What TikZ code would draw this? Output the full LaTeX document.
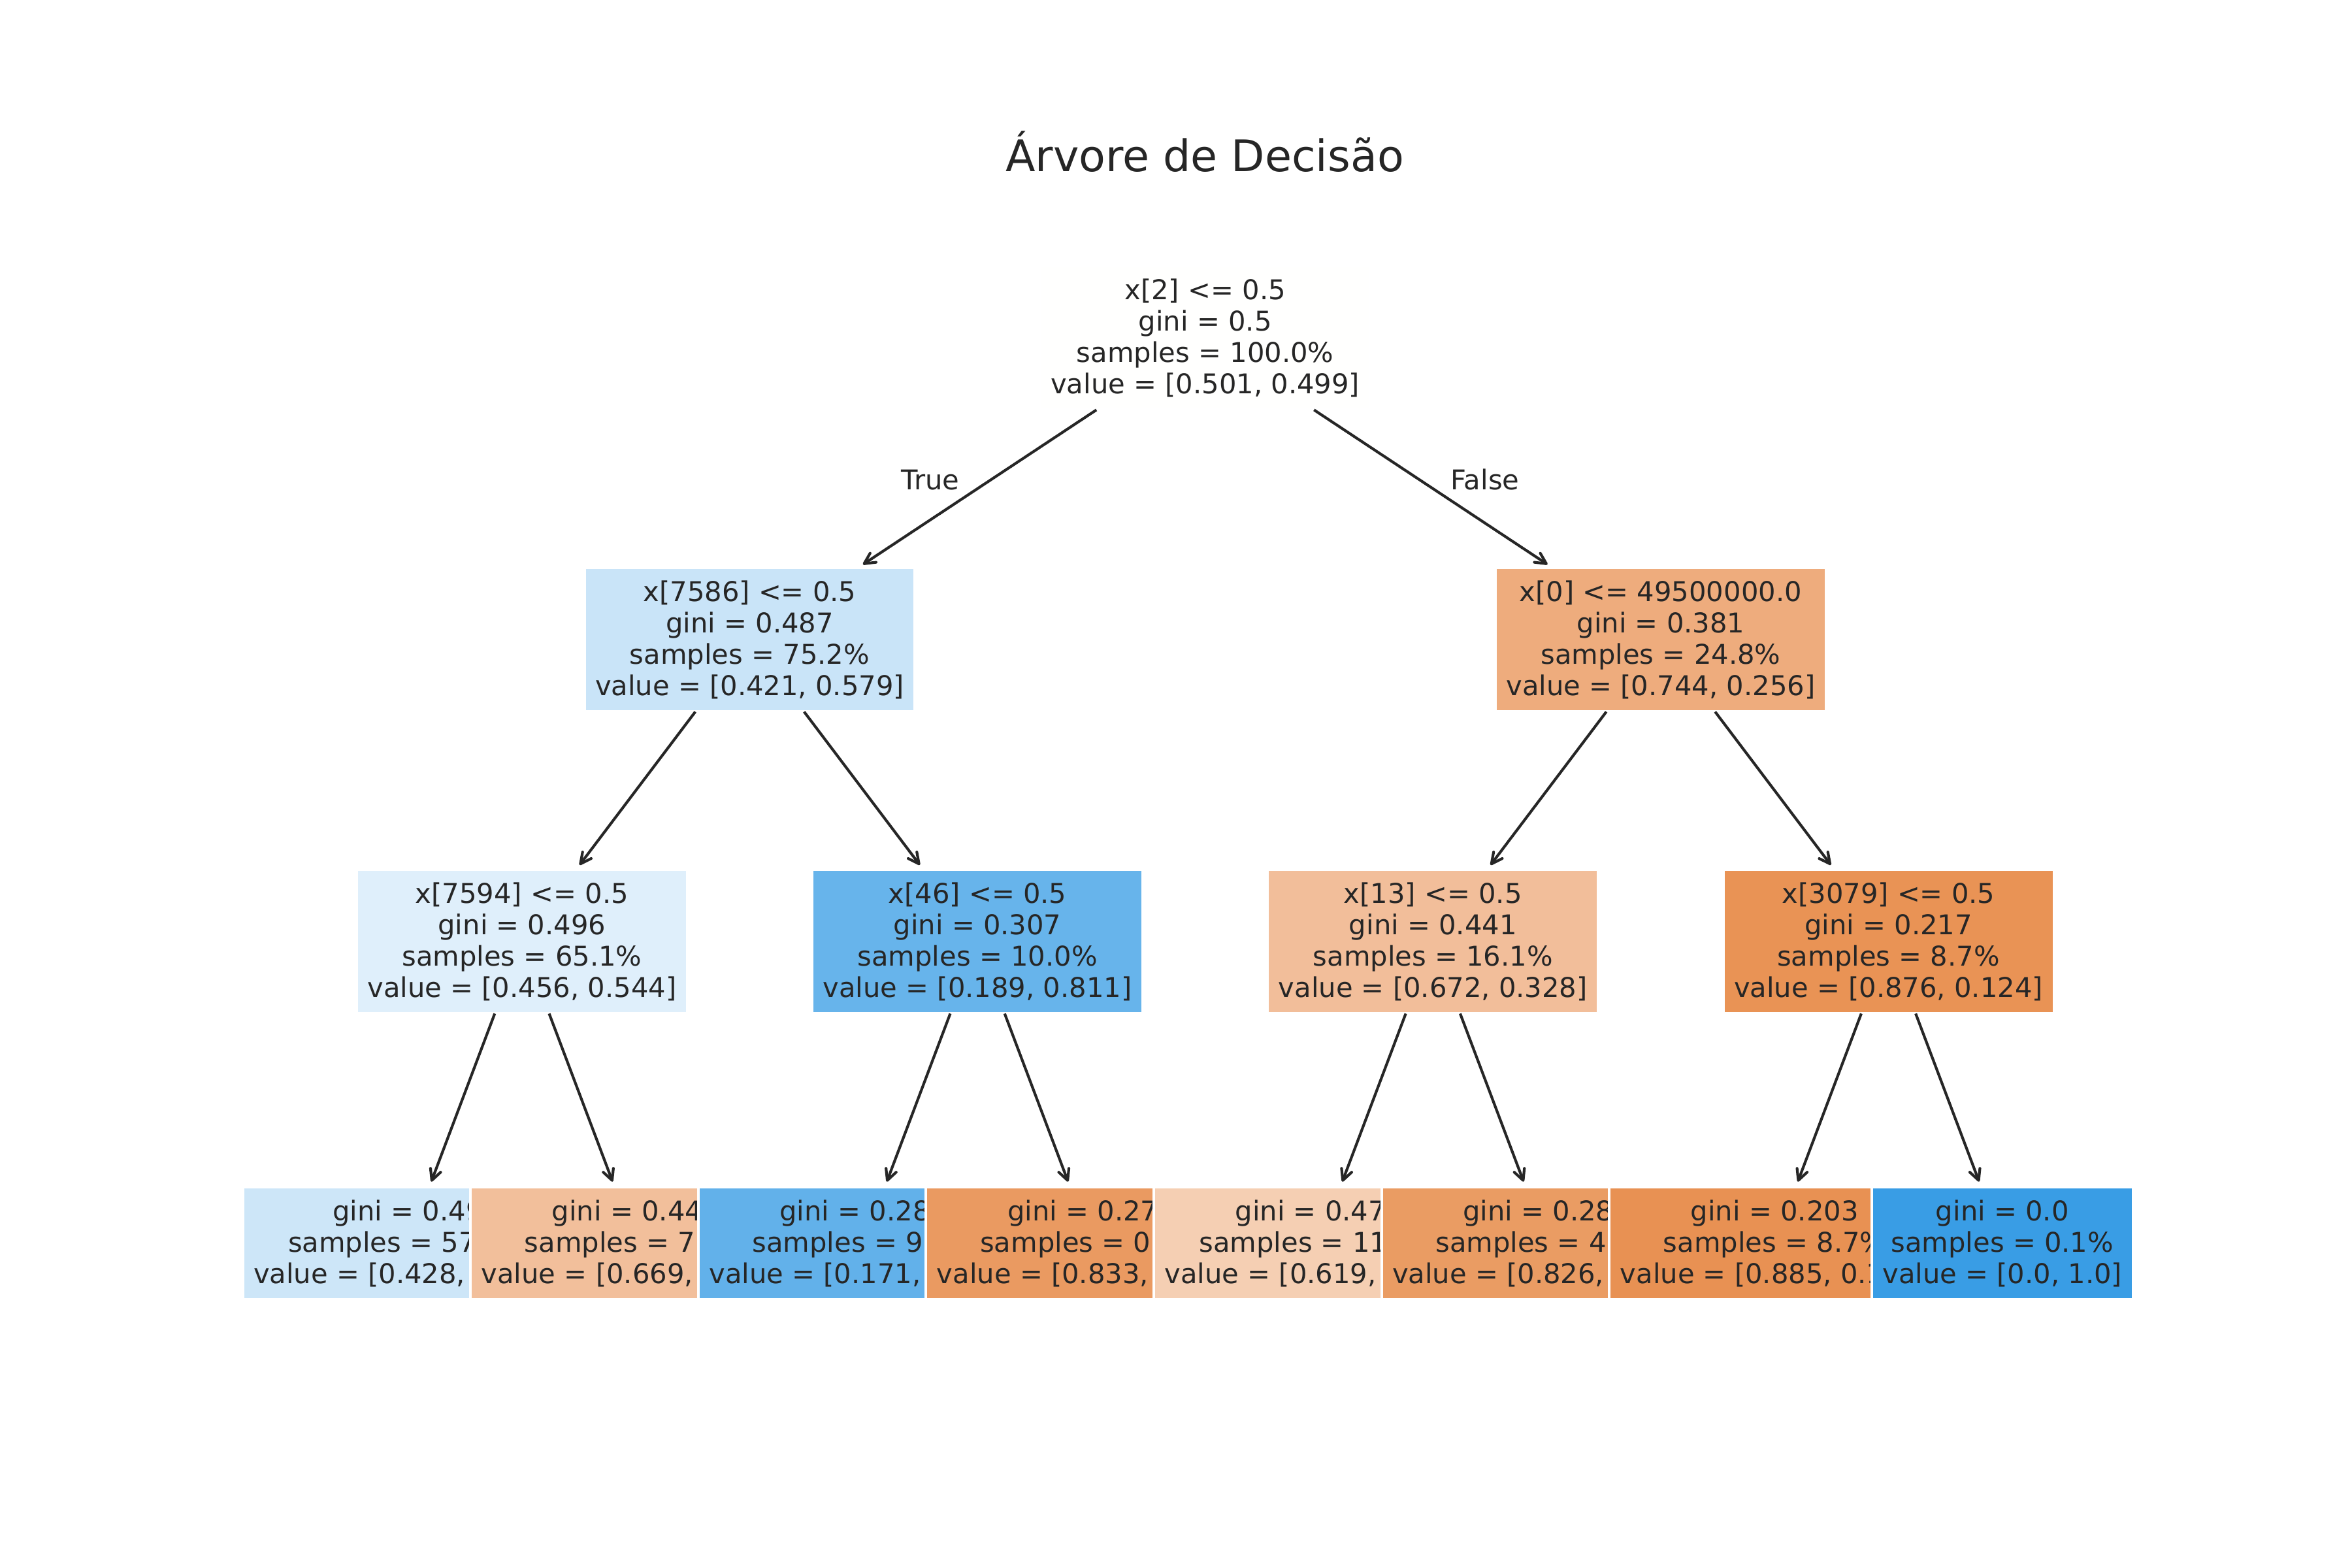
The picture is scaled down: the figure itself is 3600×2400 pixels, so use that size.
\documentclass[tikz,border=0pt]{standalone}
\usepackage{fontspec}
\setmainfont{DejaVu Sans}
\usetikzlibrary{arrows.meta}
\definecolor{txt}{RGB}{38,38,38}
\definecolor{crt}{RGB}{255,255,254}
\definecolor{cL}{RGB}{201,228,248}
\definecolor{cR}{RGB}{238,172,125}
\definecolor{cLL}{RGB}{223,239,251}
\definecolor{cLR}{RGB}{103,180,235}
\definecolor{cRL}{RGB}{242,190,154}
\definecolor{cRR}{RGB}{233,147,85}
\definecolor{ka}{RGB}{205,230,248}
\definecolor{kb}{RGB}{242,191,155}
\definecolor{kc}{RGB}{98,177,234}
\definecolor{kd}{RGB}{234,154,97}
\definecolor{ke}{RGB}{245,207,179}
\definecolor{kf}{RGB}{234,156,99}
\definecolor{kg}{RGB}{232,145,83}
\definecolor{kh}{RGB}{57,157,229}
\begin{document}
\begin{tikzpicture}[x=0.2409pt, y=-0.2409pt,
  tnode/.style={rectangle, draw=white, line width=1pt, inner xsep=4pt, inner ysep=2pt,
    outer sep=0pt, align=center, text=txt, font=\fontsize{10.04}{11.56}\selectfont},
  inode/.style={tnode, minimum height=53.2pt},
  lnode/.style={tnode, minimum height=41.7pt},
  edge/.style={draw=txt, line width=1pt, -{Straight Barb[length=4pt,width=4pt,round]}, shorten >=2pt},
  elabel/.style={text=txt, font=\fontsize{10.04}{11.56}\selectfont, anchor=base},
  ttl/.style={text=txt, font=\fontsize{16.06}{19}\selectfont, anchor=base}
]
\fill[white] (0,0) rectangle (3600,2400);
\useasboundingbox (0,0) rectangle (3600,2400);

\node[ttl] (title) at (1844,263) {Árvore de Decisão};

% nodes in drawing order
\node[inode, fill=crt] (root) at (1844.7,517) {x[2] <= 0.5\\gini = 0.5\\samples = 100.0\%\\value = [0.501, 0.499]};
\node[inode, fill=cL] (L) at (1147.5,979) {x[7586] <= 0.5\\gini = 0.487\\samples = 75.2\%\\value = [0.421, 0.579]};
\node[inode, fill=cLL] (LL) at (798.9,1441) {x[7594] <= 0.5\\gini = 0.496\\samples = 65.1\%\\value = [0.456, 0.544]};
\node[lnode, fill=ka] (k1) at (624.6,1903) {gini = 0.49\\samples = 57.6\%\\value = [0.428, 0.572]};
\node[lnode, fill=kb] (k2) at (973.2,1903) {gini = 0.443\\samples = 7.5\%\\value = [0.669, 0.331]};
\node[inode, fill=cLR] (LR) at (1496.1,1441) {x[46] <= 0.5\\gini = 0.307\\samples = 10.0\%\\value = [0.189, 0.811]};
\node[lnode, fill=kc] (k3) at (1321.8,1903) {gini = 0.284\\samples = 9.4\%\\value = [0.171, 0.829]};
\node[lnode, fill=kd] (k4) at (1670.4,1903) {gini = 0.278\\samples = 0.6\%\\value = [0.833, 0.167]};
\node[inode, fill=cR] (R) at (2541.9,979) {x[0] <= 49500000.0\\gini = 0.381\\samples = 24.8\%\\value = [0.744, 0.256]};
\node[inode, fill=cRL] (RL) at (2193.3,1441) {x[13] <= 0.5\\gini = 0.441\\samples = 16.1\%\\value = [0.672, 0.328]};
\node[lnode, fill=ke] (k5) at (2019.0,1903) {gini = 0.472\\samples = 11.6\%\\value = [0.619, 0.381]};
\node[lnode, fill=kf] (k6) at (2367.6,1903) {gini = 0.287\\samples = 4.5\%\\value = [0.826, 0.174]};
\node[inode, fill=cRR] (RR) at (2890.5,1441) {x[3079] <= 0.5\\gini = 0.217\\samples = 8.7\%\\value = [0.876, 0.124]};
\node[lnode, fill=kg] (k7) at (2716.2,1903) {gini = 0.203\\samples = 8.7\%\\value = [0.885, 0.115]};
\node[lnode, fill=kh] (k8) at (3064.8,1903) {gini = 0.0\\samples = 0.1\%\\value = [0.0, 1.0]};

% connectors
\draw[edge] (root) -- (L);
\draw[edge] (root) -- (R);
\draw[edge] (L) -- (LL);
\draw[edge] (L) -- (LR);
\draw[edge] (R) -- (RL);
\draw[edge] (R) -- (RR);
\draw[edge] (LL) -- (k1);
\draw[edge] (LL) -- (k2);
\draw[edge] (LR) -- (k3);
\draw[edge] (LR) -- (k4);
\draw[edge] (RL) -- (k5);
\draw[edge] (RL) -- (k6);
\draw[edge] (RR) -- (k7);
\draw[edge] (RR) -- (k8);

% edge labels
\node[elabel] (ltrue) at (1424,750) {True};
\node[elabel] (lfalse) at (2273,750) {False};
\end{tikzpicture}
\end{document}
